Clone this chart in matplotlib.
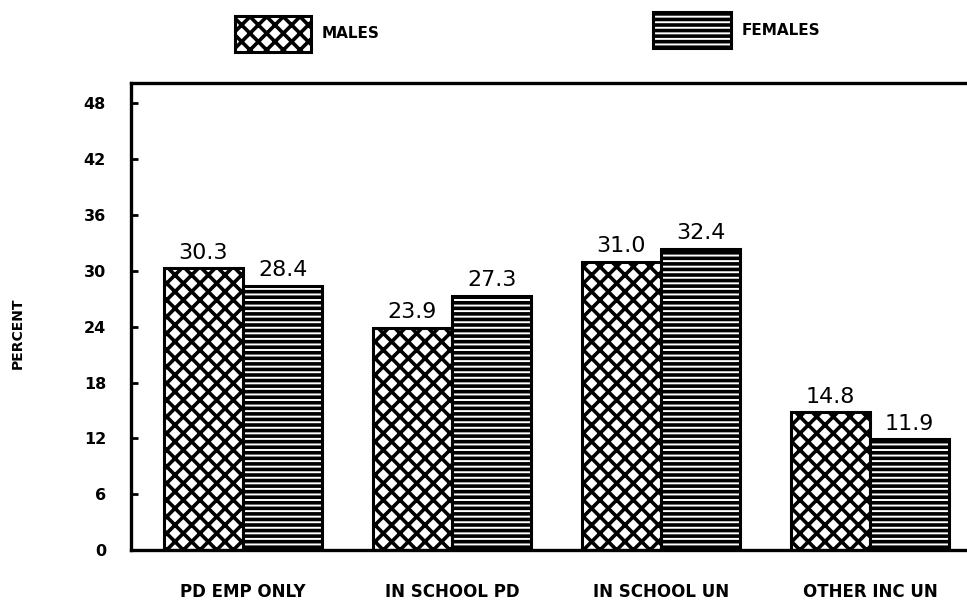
import numpy as np
import matplotlib
matplotlib.use("Agg")
import matplotlib.pyplot as plt
from matplotlib.patches import Rectangle

# percent of males / females by activity group
groups = ["PD EMP ONLY", "IN SCHOOL PD", "IN SCHOOL UN", "OTHER INC UN"]
males = [30.3, 23.9, 31.0, 14.8]
females = [28.4, 27.3, 32.4, 11.9]
yticks = [0, 6, 12, 18, 24, 30, 36, 42, 48]

plt.rcParams["hatch.linewidth"] = 2.6
plt.rcParams["font.family"] = ["DejaVu Sans Condensed", "Liberation Sans Narrow", "DejaVu Sans"]

fig = plt.figure(figsize=(9.67, 6.06), dpi=100)
ax = fig.add_axes([0.1355, 0.0924, 0.8645, 0.7706])

x = np.arange(len(groups))
w = 0.38
bm = ax.bar(x - w / 2, males, w, color="white", edgecolor="black",
            linewidth=2.2, hatch="xx")
bf = ax.bar(x + w / 2, females, w, color="white", edgecolor="black",
            linewidth=2.2, hatch="---")

# value labels over the bars
for bars, vals in [(bm, males), (bf, females)]:
    for b, v in zip(bars, vals):
        ax.annotate(f"{v:.1f}", (b.get_x() + b.get_width() / 2, v),
                    xytext=(0, 4), textcoords="offset points",
                    ha="center", va="bottom", fontsize=16)

ax.set_xlim(-0.536, 3.464)
ax.set_ylim(0, 50.2)
ax.set_yticks(yticks)
ax.set_yticklabels([str(t) for t in yticks], fontsize=11.5, fontweight="bold")
ax.tick_params(axis="y", direction="in", length=5, width=2, pad=18)
ax.set_xticks(x)
ax.set_xticklabels(groups, fontsize=12, fontweight="bold")
ax.tick_params(axis="x", length=0, pad=24)
ax.spines["right"].set_visible(False)
for s in ["left", "bottom", "top"]:
    ax.spines[s].set_linewidth(2.4)

fig.text(0.018, 0.45, "PERCENT", rotation=90, ha="center", va="center",
         fontsize=10, fontweight="bold")

# legend boxes at top
fig.add_artist(Rectangle((0.243, 0.915), 0.079, 0.058, transform=fig.transFigure,
                         facecolor="white", edgecolor="black", linewidth=2.2,
                         hatch="xx"))
fig.text(0.333, 0.944, "MALES", ha="left", va="center", fontsize=11,
         fontweight="bold")
fig.add_artist(Rectangle((0.675, 0.92), 0.081, 0.06, transform=fig.transFigure,
                         facecolor="white", edgecolor="black", linewidth=2.2,
                         hatch="---"))
fig.text(0.767, 0.95, "FEMALES", ha="left", va="center", fontsize=11,
         fontweight="bold")

fig.savefig("out.png", dpi=100)
